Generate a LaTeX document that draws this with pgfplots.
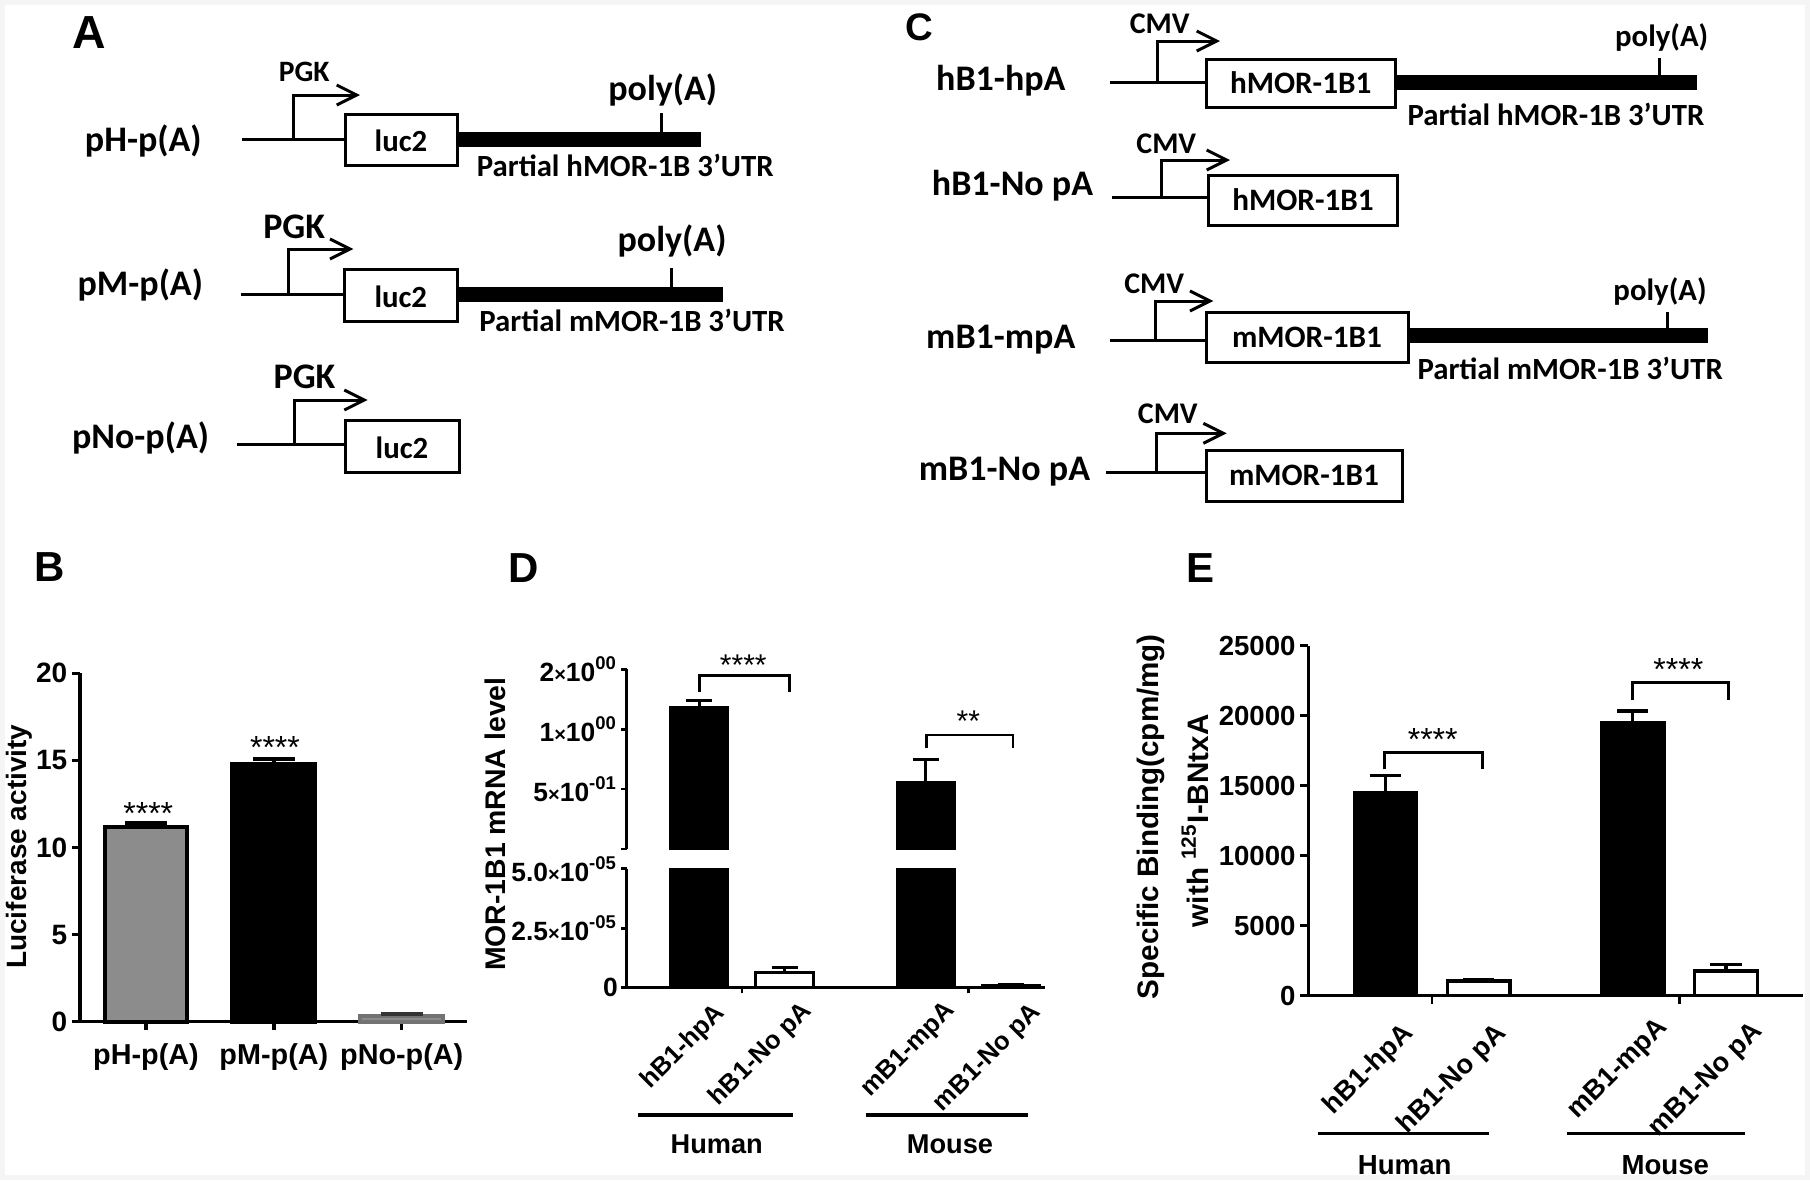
\documentclass[border=0pt]{standalone}
\usepackage{fontspec}
\setmainfont{Liberation Sans}
\newfontfamily\calfont{Carlito}
\usepackage{pgfplots}
\pgfplotsset{compat=1.18}
\usetikzlibrary{arrows.meta}
\newcommand\fs[1]{\fontsize{#1pt}{#1pt}\selectfont}
\newcommand\tms{{\fs{5}×}}
\begin{document}
\begin{tikzpicture}
\begin{scope}[x=0.25pt,y=-0.25pt]
\fill[gray!8] (0,0) rectangle (1810,1180);
\fill[white] (5,5) rectangle (1805,1175);
\end{scope}

% ---------------- Panel B ----------------
\begin{axis}[
  at={(20pt,-255.425pt)}, anchor=south west, scale only axis,
  width=96.675pt, height=87.1pt,
  xmin=-0.516, xmax=2.508, ymin=0, ymax=20,
  axis x line*=bottom, axis y line*=left,
  axis line style={line width=0.85pt},
  tick align=outside, major tick length=2pt,
  tick style={line width=0.85pt, black},
  xtick={0,1,2}, xticklabels={pH-p(A),pM-p(A),pNo-p(A)},
  ytick={0,5,10,15,20}, yticklabels={0,5,10,15,20},
  yticklabel style={font=\fs{7}\bfseries, inner sep=1pt},
  xticklabel style={font=\fs{7.2}\bfseries},
  clip=false,
]
\addplot[ybar, bar width=20.7pt, bar shift=0pt, fill=black!45, draw=black, line width=1pt,
  error bars/.cd, y dir=plus, y explicit, error mark=|,
  error bar style={line width=1pt, black},
  error mark options={line width=1pt, mark size=5.25pt, black}]
  coordinates {(0,11.2) +- (0,0.23)};
\addplot[ybar, bar width=20.7pt, bar shift=0pt, fill=black, draw=black, line width=1pt,
  error bars/.cd, y dir=plus, y explicit, error mark=|,
  error bar style={line width=1pt, black},
  error mark options={line width=1pt, mark size=5.25pt, black}]
  coordinates {(1,14.8) +- (0,0.3)};
\addplot[ybar, bar width=20.7pt, bar shift=0pt, fill=black!45, draw=black!55, line width=1pt,
  error bars/.cd, y dir=plus, y explicit, error mark=|,
  error bar style={line width=1pt, black!80},
  error mark options={line width=1pt, mark size=5.25pt, black!80}]
  coordinates {(2,0.33) +- (0,0.1)};
\end{axis}

% ---------------- Panel D (upper, log segment) ----------------
\begin{axis}[
  at={(156.675pt,-212.25pt)}, anchor=south west, scale only axis,
  width=104.575pt, height=44.925pt,
  xmin=-0.85, xmax=4.048, ymode=log, ymin=0.25, ymax=2, log origin y=infty,
  axis y line*=left, axis x line=none,
  axis line style={line width=0.65pt},
  tick align=outside, major tick length=1.4pt,
  tick style={line width=0.65pt, black},
  ytick={0.25,0.5,1,2},
  yticklabels={{},{5\tms10\textsuperscript{-01}},{1\tms10\textsuperscript{00}},{2\tms10\textsuperscript{00}}},
  yticklabel style={font=\fs{6.6}\bfseries, inner sep=0.6pt},
]
\addplot[ybar, bar width=14.5pt, bar shift=0pt, fill=black, draw=black, line width=0.5pt,
  error bars/.cd, y dir=plus, y explicit, error mark=|,
  error bar style={line width=0.7pt, black},
  error mark options={line width=0.7pt, mark size=3.25pt, black}]
  coordinates {(0,1.29) +- (0,0.10) (2.649,0.545) +- (0,0.16)};
\end{axis}

% ---------------- Panel D (lower, linear segment) ----------------
\begin{axis}[
  at={(156.675pt,-246.925pt)}, anchor=south west, scale only axis,
  width=104.575pt, height=29.75pt,
  xmin=-0.85, xmax=4.048, ymin=0, ymax=5e-5,
  axis x line*=bottom, axis y line*=left,
  axis line style={line width=0.65pt},
  tick align=outside, major tick length=1.4pt,
  tick style={line width=0.65pt, black},
  xtick={0.5,3.149}, xticklabels={},
  ytick={0,2.5e-5,5e-5}, scaled y ticks=false,
  yticklabels={0,{2.5\tms10\textsuperscript{-05}},{5.0\tms10\textsuperscript{-05}}},
  yticklabel style={font=\fs{6.6}\bfseries, inner sep=0.6pt},
]
\addplot[ybar, bar width=14.5pt, bar shift=0pt, fill=black, draw=black, line width=0.5pt,
  restrict y to domain*=0:6e-5]
  coordinates {(0,1.29) (2.649,0.545)};
\addplot[ybar, bar width=14.5pt, bar shift=0pt, fill=white, draw=black, line width=0.7pt,
  error bars/.cd, y dir=plus, y explicit, error mark=|,
  error bar style={line width=0.7pt, black},
  error mark options={line width=0.7pt, mark size=3.25pt, black}]
  coordinates {(1,6.5e-6) +- (0,1.9e-6) (3.649,1.0e-6) +- (0,0.3e-6)};
\end{axis}

% ---------------- Panel E ----------------
\begin{axis}[
  at={(327.075pt,-248.925pt)}, anchor=south west, scale only axis,
  width=123.75pt, height=87.5pt,
  xmin=-0.828, xmax=4.483, ymin=0, ymax=25000,
  axis x line*=bottom, axis y line*=left,
  axis line style={line width=0.7pt},
  tick align=outside, major tick length=2pt,
  tick style={line width=0.7pt, black},
  xtick={0.5,3.153}, xticklabels={},
  ytick={0,5000,10000,15000,20000,25000}, scaled y ticks=false,
  yticklabels={0,5000,10000,15000,20000,25000},
  yticklabel style={font=\fs{6.9}\bfseries, inner sep=1pt},
]
\addplot[ybar, bar width=15.7pt, bar shift=0pt, fill=black, draw=black, line width=0.7pt,
  error bars/.cd, y dir=plus, y explicit, error mark=|,
  error bar style={line width=0.8pt, black},
  error mark options={line width=0.8pt, mark size=3.9pt, black}]
  coordinates {(0,14530) +- (0,1190) (2.653,19500) +- (0,840)};
\addplot[ybar, bar width=15.7pt, bar shift=0pt, fill=white, draw=black, line width=0.8pt,
  error bars/.cd, y dir=plus, y explicit, error mark=|,
  error bar style={line width=0.8pt, black},
  error mark options={line width=0.8pt, mark size=3.9pt, black}]
  coordinates {(1,1050) +- (0,120) (3.653,1760) +- (0,480)};
\end{axis}

% ---------------- Annotations and schematics (pixel units) ----------------
\begin{scope}[x=0.25pt,y=-0.25pt, line cap=butt,
  ln/.style={line width=0.75pt},
  prom/.style={line width=0.75pt, -{Straight Barb[length=5pt,width=5pt]}},
  cal/.style={inner sep=0pt, anchor=base, font=\calfont\bfseries\fs{#1}},
  ar/.style={inner sep=0pt, anchor=base, font=\bfseries\fs{#1}}]
% panel letters
\node[ar=11.6, anchor=base west] at (71.7,48.3) {A};
\node[ar=9.6, anchor=base west] at (905,40) {C};
\node[ar=10.5, anchor=base west] at (33.7,581.7) {B};
\node[ar=10.5, anchor=base west] at (508,582) {D};
\node[ar=10.5, anchor=base west] at (1186,582) {E};

% ---- Panel A ----
% row 1
\node[cal=9] at (143.3,151.7) {pH-p(A)};
\draw[ln] (241.7,139.3) -- (345,139.3);
\draw[prom] (293.3,139.3) -- (293.3,95) -- (360,95);
\node[cal=7.4] at (304.2,81.7) {PGK};
\draw[ln, fill=white] (345,114.3) rectangle (457.3,165.7);
\node[cal=7.7] at (401,151.7) {luc2};
\fill (457.3,131.7) rectangle (700.8,147.3);
\draw[ln] (661.6,131.7) -- (661.6,113.3);
\node[cal=9] at (662.7,100) {poly(A)};
\node[cal=7.7, anchor=base west] at (476,176.7) {Partial hMOR-1B 3’UTR};
% row 2
\node[cal=9] at (140.3,295) {pM-p(A)};
\draw[ln] (240.7,294.3) -- (344.3,294.3);
\draw[prom] (288.3,294.3) -- (288.3,249) -- (353.3,249);
\node[cal=9] at (294.2,238.3) {PGK};
\draw[ln, fill=white] (344.3,269.3) rectangle (457.3,321.7);
\node[cal=7.7] at (400.8,307) {luc2};
\fill (457.3,287) rectangle (723.3,302.2);
\draw[ln] (671,287) -- (671,268.3);
\node[cal=9] at (672,251.7) {poly(A)};
\node[cal=7.7, anchor=base west] at (478.6,331.7) {Partial mMOR-1B 3’UTR};
% row 3
\node[cal=9] at (140.5,448.3) {pNo-p(A)};
\draw[ln] (236.7,444.3) -- (345,444.3);
\draw[prom] (294,444.3) -- (294,400) -- (367.7,400);
\node[cal=9] at (304.5,388.3) {PGK};
\draw[ln, fill=white] (345,420) rectangle (459,472.3);
\node[cal=7.7] at (402,458) {luc2};

% ---- Panel C ----
% row 1
\node[cal=9] at (1000.8,90) {hB1-hpA};
\draw[ln] (1110,82.7) -- (1206,82.7);
\draw[prom] (1157.7,82.7) -- (1157.7,41) -- (1220,41);
\node[cal=7.5] at (1159.7,33.3) {CMV};
\draw[ln, fill=white] (1206,59.3) rectangle (1395.7,107.7);
\node[cal=7.8] at (1300.7,93.5) {hMOR-1B1};
\fill (1395.7,75) rectangle (1697.3,90);
\draw[ln] (1659,75) -- (1659,58.3);
\node[cal=7.7] at (1661.7,46.7) {poly(A)};
\node[cal=7.7, anchor=base west] at (1406.7,125) {Partial hMOR-1B 3’UTR};
% row 2
\node[cal=9] at (1012.5,195) {hB1-No pA};
\draw[ln] (1111.7,197.3) -- (1208.3,197.3);
\draw[prom] (1161,197.3) -- (1161,160) -- (1230,160);
\node[cal=7.5] at (1166.3,153.3) {CMV};
\draw[ln, fill=white] (1208.3,175.7) rectangle (1397.7,225.7);
\node[cal=7.8] at (1303,210.7) {hMOR-1B1};
% row 3
\node[cal=9] at (1000.8,348.3) {mB1-mpA};
\draw[ln] (1110,340) -- (1206,340);
\draw[prom] (1155,340) -- (1155,301) -- (1213.3,301);
\node[cal=7.5] at (1154.2,293.3) {CMV};
\draw[ln, fill=white] (1206,312.7) rectangle (1408.3,362.3);
\node[cal=7.8] at (1307,347.5) {mMOR-1B1};
\fill (1408.3,328.3) rectangle (1708.3,343.3);
\draw[ln] (1667.7,328.3) -- (1667.7,311.7);
\node[cal=7.7] at (1660,300) {poly(A)};
\node[cal=7.7, anchor=base west] at (1416.7,379.3) {Partial mMOR-1B 3’UTR};
% row 4
\node[cal=9] at (1004.5,480) {mB1-No pA};
\draw[ln] (1106,472.3) -- (1206,472.3);
\draw[prom] (1156.7,472.3) -- (1156.7,433.3) -- (1226.7,433.3);
\node[cal=7.5] at (1167.8,423.3) {CMV};
\draw[ln, fill=white] (1206,450.7) rectangle (1402.7,501);
\node[cal=7.8] at (1304,485.8) {mMOR-1B1};

% ---- Panel B annotations ----
\node[ar=7, rotate=90] at (26.7,846.7) {Luciferase activity};
\node[inner sep=0pt, anchor=base, font=\fs{8}] at (148.3,824) {****};
\node[inner sep=0pt, anchor=base, font=\fs{8}] at (275,758.3) {****};

% ---- Panel D annotations ----
\node[ar=7.1, rotate=90] at (505,824.2) {MOR-1B1 mRNA level};
\begin{scope}[font=\bfseries\fs{6.4}]
\node[rotate=45, anchor=north east, inner sep=0pt] at (712.7,1000) {hB1-hpA};
\node[rotate=45, anchor=north east, inner sep=0pt] at (799.3,998.3) {hB1-No pA};
\node[rotate=45, anchor=north east, inner sep=0pt] at (943.3,998.3) {mB1-mpA};
\node[rotate=45, anchor=north east, inner sep=0pt] at (1029,1000) {mB1-No pA};
\end{scope}
\draw[line width=0.7pt] (699.3,691.7) -- (699.3,675.7) -- (789.3,675.7) -- (789.3,691.7);
\node[inner sep=0pt, anchor=base, font=\fs{7.5}] at (743.3,675.7) {****};
\draw[line width=0.7pt] (926.7,748.3) -- (926.7,735) -- (1013,735) -- (1013,748.3);
\node[inner sep=0pt, anchor=base, font=\fs{7.5}] at (968.3,731.4) {**};
\draw[line width=0.85pt] (638.3,1115) -- (793.3,1115);
\draw[line width=0.85pt] (866,1115) -- (1028,1115);
\node[ar=6.8] at (716.7,1153.3) {Human};
\node[ar=6.8] at (950,1153.3) {Mouse};

% ---- Panel E annotations ----
\node[ar=7.4, rotate=90] at (1158,816.7) {Specific Binding(cpm/mg)};
\node[ar=7.4, rotate=90] at (1208,820.8) {with \textsuperscript{125}I-BNtxA};
\begin{scope}[font=\bfseries\fs{6.8}]
\node[rotate=45, anchor=north east, inner sep=0pt] at (1400,1020) {hB1-hpA};
\node[rotate=45, anchor=north east, inner sep=0pt] at (1493.3,1020) {hB1-No pA};
\node[rotate=45, anchor=north east, inner sep=0pt] at (1655,1014) {mB1-mpA};
\node[rotate=45, anchor=north east, inner sep=0pt] at (1750,1018) {mB1-No pA};
\end{scope}
\draw[line width=0.85pt] (1384.3,769.3) -- (1384.3,752.7) -- (1482.3,752.7) -- (1482.3,769.3);
\node[inner sep=0pt, anchor=base, font=\fs{8}] at (1432.7,750.8) {****};
\draw[line width=0.85pt] (1632.3,700) -- (1632.3,682.7) -- (1728.3,682.7) -- (1728.3,700);
\node[inner sep=0pt, anchor=base, font=\fs{8}] at (1678.3,680.8) {****};
\draw[line width=0.85pt] (1318.3,1133.3) -- (1489,1133.3);
\draw[line width=0.85pt] (1566.7,1133.3) -- (1745,1133.3);
\node[ar=6.9] at (1404.7,1174.5) {Human};
\node[ar=6.9] at (1665.3,1174.5) {Mouse};
\fill[gray!8] (0,1175) rectangle (1810,1180);
\end{scope}
\end{tikzpicture}
\end{document}
